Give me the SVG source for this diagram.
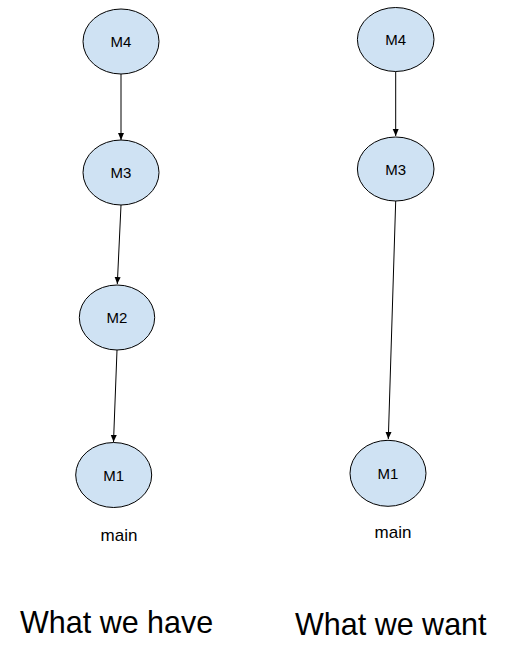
<svg xmlns="http://www.w3.org/2000/svg" width="512" height="667" viewBox="0 0 512 667">
<style>
.n{fill:#cfe2f3;stroke:#000;stroke-width:1}
.l{font-family:"Liberation Sans",Arial,sans-serif;font-size:15px;fill:#000;text-anchor:middle}
.m{font-family:"Liberation Sans",Arial,sans-serif;font-size:17px;fill:#000;text-anchor:middle}
.t{font-family:"Liberation Sans",Arial,sans-serif;font-size:30.5px;fill:#000}
.e{stroke:#000;stroke-width:1;fill:none;marker-end:url(#a)}
</style>
<defs>
<marker id="a" markerWidth="8" markerHeight="8" refX="7" refY="4" orient="auto" markerUnits="userSpaceOnUse">
<path d="M0,1 L7,4 L0,7 Z" fill="#000"/>
</marker>
</defs>
<rect width="512" height="667" fill="#fff"/>
<g id="edges">
<line class="e" x1="121" y1="74" x2="121" y2="140"/>
<line class="e" x1="121" y1="205" x2="117.3" y2="284"/>
<line class="e" x1="117" y1="350" x2="113.5" y2="442"/>
<line class="e" x1="395.7" y1="71.5" x2="395.7" y2="136"/>
<line class="e" x1="395.7" y1="201" x2="388.3" y2="439"/>
</g>
<g id="L-M4"><ellipse class="n" cx="121" cy="41.5" rx="38" ry="32.5"/><text class="l" x="121" y="47">M4</text></g>
<g id="L-M3"><ellipse class="n" cx="121" cy="172.5" rx="38" ry="32.5"/><text class="l" x="121" y="178">M3</text></g>
<g id="L-M2"><ellipse class="n" cx="117" cy="317.5" rx="37.7" ry="32.5"/><text class="l" x="117" y="323">M2</text></g>
<g id="L-M1"><ellipse class="n" cx="113.7" cy="475" rx="38" ry="32.5"/><text class="l" x="113.7" y="480.5">M1</text></g>
<g id="R-M4"><ellipse class="n" cx="395.7" cy="39.5" rx="38.3" ry="32"/><text class="l" x="395.7" y="45">M4</text></g>
<g id="R-M3"><ellipse class="n" cx="395.7" cy="169" rx="38.3" ry="32"/><text class="l" x="395.7" y="174.5">M3</text></g>
<g id="R-M1"><ellipse class="n" cx="388" cy="473.3" rx="38" ry="33"/><text class="l" x="388" y="478.8">M1</text></g>
<text class="m" x="119" y="541">main</text>
<text class="m" x="393" y="538">main</text>
<text class="t" x="20" y="633">What we have</text>
<text class="t" x="295" y="635">What we want</text>
</svg>
